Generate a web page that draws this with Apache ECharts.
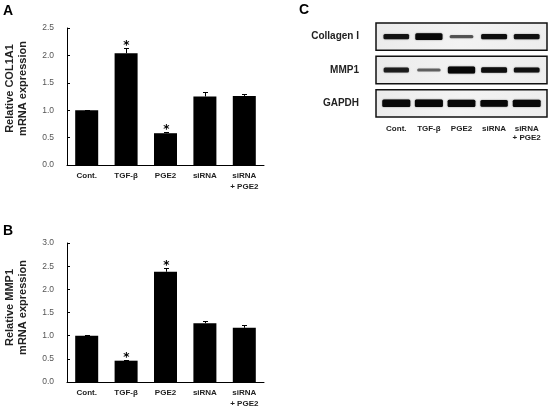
<!DOCTYPE html>
<html><head><meta charset="utf-8">
<script src="https://cdn.jsdelivr.net/npm/echarts@6/dist/echarts.min.js"></script>
<style>html,body{margin:0;padding:0;background:#fff}#c{width:550px;height:410px}</style>
</head><body><div id="c"></div>
<script>
// ---- Data ----
const categories = ['Cont.', 'TGF-β', 'PGE2', 'siRNA', 'siRNA\n+ PGE2'];
const col1a1Mean = [1.0, 2.04, 0.58, 1.25, 1.26];
const col1a1Err  = [0.01, 0.09, 0.02, 0.09, 0.04];
const col1a1Sig  = [0, 1, 1, 0, 0];
const mmp1Mean = [1.0, 0.46, 2.38, 1.27, 1.17];
const mmp1Err  = [0.01, 0.02, 0.08, 0.04, 0.05];
const mmp1Sig  = [0, 1, 1, 0, 0];
const col1a1Ticks = [0, 0.5, 1.0, 1.5, 2.0, 2.5];
const mmp1Ticks = [0, 0.5, 1.0, 1.5, 2.0, 2.5, 3.0];

const blotLanes = ['Cont.', 'TGF-β', 'PGE2', 'siRNA', 'siRNA\n+ PGE2'];
const blotProteins = ['Collagen I', 'MMP1', 'GAPDH'];
const collagenBand = [0.6, 0.85, 0.3, 0.65, 0.62];
const mmp1Band     = [0.55, 0.25, 0.88, 0.65, 0.62];
const gapdhBand    = [1.0, 1.0, 0.95, 0.88, 0.97];

// ---- Build ----
const FONT = 'Liberation Sans';
function errRender(params, api) {
  const i = api.value(0), m = api.value(1), e = api.value(2), sig = api.value(3);
  const base = api.coord([i, m]);
  const top = api.coord([i, m + e]);
  const x = Math.round(base[0]) + 0.5;
  const ty = Math.round(top[1]) + 0.5;
  const ch = [
    {type: 'line', shape: {x1: x, y1: base[1], x2: x, y2: ty}, style: {stroke: '#000', lineWidth: 1}},
    {type: 'line', shape: {x1: x - 2.5, y1: ty, x2: x + 2.5, y2: ty}, style: {stroke: '#000', lineWidth: 1}}
  ];
  if (sig) ch.push({type: 'text', x: x, y: ty - 3, style: {text: '*', fontSize: 12, fontWeight: 'bold', fill: '#000', align: 'center', verticalAlign: 'middle', fontFamily: 'DejaVu Sans'}});
  return {type: 'group', children: ch};
}
function catAxis(gi) {
  return {
    type: 'category', gridIndex: gi, data: categories,
    axisLine: {lineStyle: {color: '#000', width: 1}},
    axisTick: {inside: true, length: 3, lineStyle: {color: '#000'}},
    axisLabel: {fontFamily: FONT, fontSize: 8, fontWeight: 'bold', color: '#222', lineHeight: 10.5, margin: 6, interval: 0}
  };
}
function valAxis(gi, ticks, name, shift) {
  return {
    type: 'value', gridIndex: gi, min: ticks[0], max: ticks[ticks.length - 1], interval: 0.5,
    name: name, nameLocation: 'middle', nameGap: 38,
    nameTextStyle: {fontFamily: FONT, fontSize: 11, fontWeight: 'bold', color: '#222', lineHeight: 12.5, padding: [0, 0, 0, shift]},
    axisLine: {show: true, lineStyle: {color: '#000', width: 1}},
    axisTick: {show: true, inside: true, length: 3, lineStyle: {color: '#000'}},
    splitLine: {show: false},
    axisLabel: {fontFamily: FONT, fontSize: 8.5, color: '#555', margin: 13, formatter: v => v.toFixed(1)}
  };
}
const bandRows = [collagenBand, mmp1Band, gapdhBand];
const bandData = [];
bandRows.forEach((row, r) => row.forEach((v, l) => bandData.push([l, r, v])));

const option = {
  animation: false,
  backgroundColor: '#fff',
  title: [
    {text: 'A', left: 3, top: 4, padding: 0, textStyle: {fontFamily: FONT, fontSize: 14, fontWeight: 'bold', color: '#000'}},
    {text: 'B', left: 3, top: 224, padding: 0, textStyle: {fontFamily: FONT, fontSize: 14, fontWeight: 'bold', color: '#000'}},
    {text: 'C', left: 299, top: 3, padding: 0, textStyle: {fontFamily: FONT, fontSize: 14, fontWeight: 'bold', color: '#000'}}
  ],
  grid: [
    {left: 67, top: 28, width: 197, height: 137, outerBoundsMode: 'none'},
    {left: 67, top: 243, width: 197, height: 139, outerBoundsMode: 'none'},
    {left: 380, top: 20, width: 163, height: 100, outerBoundsMode: 'none'}
  ],
  xAxis: [
    catAxis(0), catAxis(1),
    {type: 'category', gridIndex: 2, data: blotLanes, axisLine: {show: false}, axisTick: {show: false},
     axisLabel: {fontFamily: FONT, fontSize: 8, fontWeight: 'bold', color: '#222', lineHeight: 9.5, margin: 4, interval: 0}}
  ],
  yAxis: [
    valAxis(0, col1a1Ticks, 'Relative COL1A1\nmRNA expression', 16),
    valAxis(1, mmp1Ticks, 'Relative MMP1\nmRNA expression', 10),
    {type: 'category', gridIndex: 2, data: blotProteins, inverse: true, axisLine: {show: false}, axisTick: {show: false},
     axisLabel: {fontFamily: FONT, fontSize: 10, fontWeight: 'bold', color: '#222', margin: 21}}
  ],
  series: [
    {type: 'bar', xAxisIndex: 0, yAxisIndex: 0, data: col1a1Mean, barWidth: 23, itemStyle: {color: '#000'}},
    {type: 'custom', xAxisIndex: 0, yAxisIndex: 0, z: 5, renderItem: errRender,
     data: col1a1Mean.map((m, i) => [i, m, col1a1Err[i], col1a1Sig[i]])},
    {type: 'bar', xAxisIndex: 1, yAxisIndex: 1, data: mmp1Mean, barWidth: 23, itemStyle: {color: '#000'}},
    {type: 'custom', xAxisIndex: 1, yAxisIndex: 1, z: 5, renderItem: errRender,
     data: mmp1Mean.map((m, i) => [i, m, mmp1Err[i], mmp1Sig[i]])},
    // blot frames
    {type: 'custom', xAxisIndex: 2, yAxisIndex: 2, z: 1,
     renderItem: function (params, api) {
       const cs = params.coordSys;
       const cy = api.coord([0, api.value(0)])[1];
       const bh = api.size([0, 1])[1];
       return {type: 'rect', shape: {x: cs.x - 4, y: cy - bh / 2 + 3, width: cs.width + 8, height: bh - 6},
         style: {fill: new echarts.graphic.LinearGradient(0, 0, 1, 1, [{offset: 0, color: '#ebebeb'}, {offset: 0.5, color: '#f3f3f3'}, {offset: 1, color: '#ededed'}]),
           stroke: '#111', lineWidth: 1.5}};
     },
     data: blotProteins.map((p, i) => [i])},
    // bands
    {type: 'custom', xAxisIndex: 2, yAxisIndex: 2, z: 3,
     renderItem: function (params, api) {
       const p = api.coord([api.value(0), api.value(1)]);
       const v = api.value(2);
       const w = 22 + 6 * v, h = 1.5 + 6 * v;
       const a = Math.min(1, 0.3 + 1.0 * v);
       return {type: 'rect', shape: {x: p[0] - w / 2, y: p[1] - h / 2, width: w, height: h, r: 1.5},
         style: {fill: 'rgba(8,8,8,' + a + ')', shadowBlur: 1.5, shadowColor: 'rgba(0,0,0,' + (a * 0.6) + ')'}};
     },
     data: bandData}
  ]
};
const chart = echarts.init(document.getElementById('c'));
chart.setOption(option);
</script></body></html>
